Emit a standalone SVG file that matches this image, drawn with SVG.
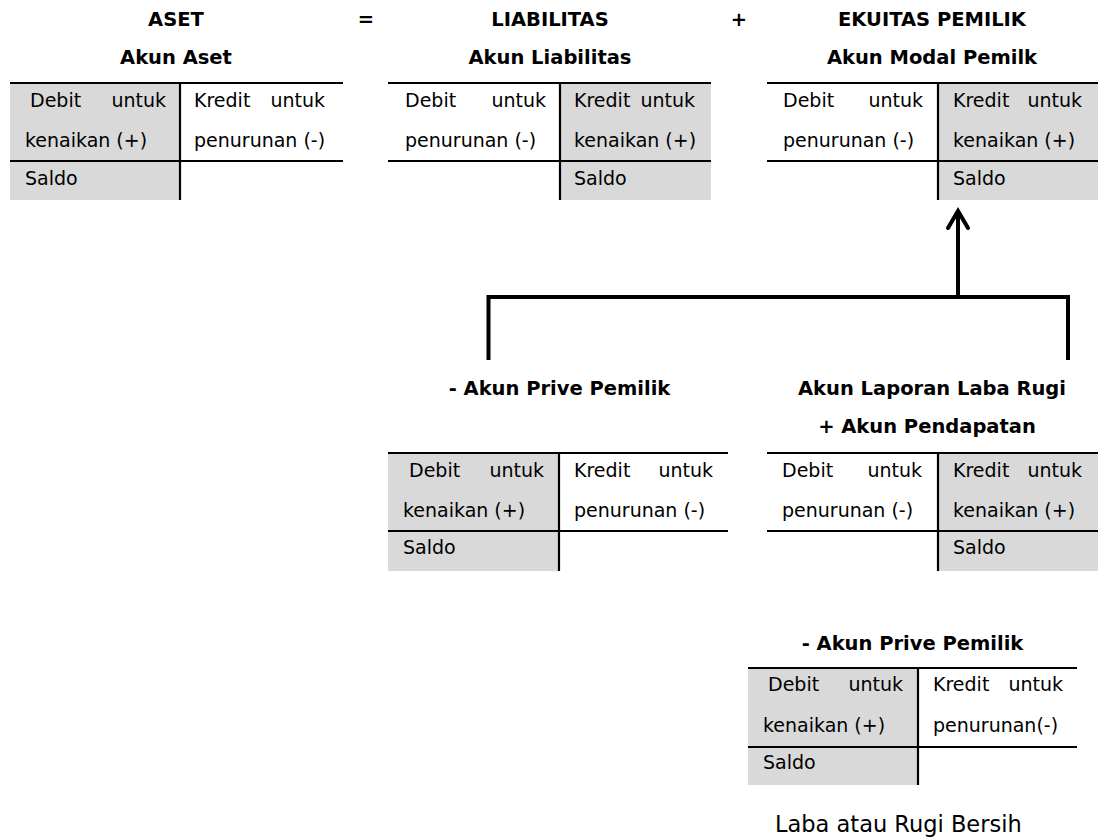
<svg xmlns="http://www.w3.org/2000/svg" width="1098" height="838" viewBox="0 0 1098 838">
<defs>
<style>
.t{font-family:"DejaVu Sans","Liberation Sans",sans-serif;font-size:19px;fill:#000}
.h{font-family:"DejaVu Sans","Liberation Sans",sans-serif;font-size:19.5px;font-weight:bold;fill:#000;text-anchor:middle}
.e{text-anchor:end}
.g{fill:#d9d9d9}
.ln{stroke:#000;stroke-width:2.2;fill:none}
.cn{stroke:#000;stroke-width:4;fill:none}
</style>
<marker id="arr" markerUnits="userSpaceOnUse" orient="auto" refX="0" refY="0" markerWidth="30" markerHeight="30" overflow="visible">
<path d="M-17,-10 L0,0 L-17,10" fill="none" stroke="#000" stroke-width="4" stroke-linecap="round" stroke-linejoin="miter"/>
</marker>
</defs>
<rect width="1098" height="838" fill="#fff"/>

<g id="headers">
<text class="h" x="176" y="26">ASET</text>
<text class="h" x="366" y="26">=</text>
<text class="h" x="550" y="26">LIABILITAS</text>
<text class="h" x="739" y="26">+</text>
<text class="h" x="932" y="26">EKUITAS PEMILIK</text>
</g>

<g id="akun-aset">
<text class="h" x="176" y="64">Akun Aset</text>
<rect class="g" x="10" y="83" width="170" height="117"/>
<path class="ln" d="M10,83 H343 M10,161 H343 M180,83 V200"/>
<text class="t" x="30" y="106.5">Debit</text><text class="t e" x="166" y="106.5">untuk</text>
<text class="t" x="25" y="147">kenaikan (+)</text>
<text class="t" x="194" y="106.5">Kredit</text><text class="t e" x="325" y="106.5">untuk</text>
<text class="t" x="194" y="147">penurunan (-)</text>
<text class="t" x="25" y="184.5">Saldo</text>
</g>

<g id="akun-liabilitas">
<text class="h" x="550" y="64">Akun Liabilitas</text>
<rect class="g" x="560" y="83" width="151" height="117"/>
<path class="ln" d="M388,83 H711 M388,161 H711 M560,83 V200"/>
<text class="t" x="405" y="106.5">Debit</text><text class="t e" x="546" y="106.5">untuk</text>
<text class="t" x="405" y="147">penurunan (-)</text>
<text class="t" x="574" y="106.5">Kredit</text><text class="t e" x="695" y="106.5">untuk</text>
<text class="t" x="574" y="147">kenaikan (+)</text>
<text class="t" x="574" y="184.5">Saldo</text>
</g>

<g id="akun-modal">
<text class="h" x="932" y="64">Akun Modal Pemilk</text>
<rect class="g" x="938" y="83" width="160" height="117"/>
<path class="ln" d="M767,83 H1098 M767,161 H1098 M938,83 V200"/>
<text class="t" x="783" y="106.5">Debit</text><text class="t e" x="923" y="106.5">untuk</text>
<text class="t" x="783" y="147">penurunan (-)</text>
<text class="t" x="953" y="106.5">Kredit</text><text class="t e" x="1082" y="106.5">untuk</text>
<text class="t" x="953" y="147">kenaikan (+)</text>
<text class="t" x="953" y="184.5">Saldo</text>
</g>

<g id="connectors">
<path class="cn" d="M488.5,360 V297 H1068 V360"/>
<line class="cn" x1="958" y1="297" x2="958" y2="211" marker-end="url(#arr)"/>
</g>

<g id="akun-prive-1">
<text class="h" x="559.5" y="395">- Akun Prive Pemilik</text>
<rect class="g" x="388" y="453" width="171" height="118"/>
<path class="ln" d="M388,453 H728 M388,531 H728 M559,453 V571"/>
<text class="t" x="409" y="476.5">Debit</text><text class="t e" x="544" y="476.5">untuk</text>
<text class="t" x="403" y="517">kenaikan (+)</text>
<text class="t" x="574" y="476.5">Kredit</text><text class="t e" x="713" y="476.5">untuk</text>
<text class="t" x="574" y="517">penurunan (-)</text>
<text class="t" x="403" y="553.5">Saldo</text>
</g>

<g id="akun-laba-rugi">
<text class="h" x="932" y="395">Akun Laporan Laba Rugi</text>
<text class="h" x="927" y="433">+ Akun Pendapatan</text>
<rect class="g" x="938" y="453" width="160" height="118"/>
<path class="ln" d="M767,453 H1098 M767,531 H1098 M938,453 V571"/>
<text class="t" x="782" y="476.5">Debit</text><text class="t e" x="922" y="476.5">untuk</text>
<text class="t" x="782" y="517">penurunan (-)</text>
<text class="t" x="953" y="476.5">Kredit</text><text class="t e" x="1082" y="476.5">untuk</text>
<text class="t" x="953" y="517">kenaikan (+)</text>
<text class="t" x="953" y="553.5">Saldo</text>
</g>

<g id="akun-prive-2">
<text class="h" x="912.5" y="650">- Akun Prive Pemilik</text>
<rect class="g" x="748" y="668" width="170" height="117"/>
<path class="ln" d="M748,668 H1077 M748,747 H1077 M918,668 V785"/>
<text class="t" x="768" y="691">Debit</text><text class="t e" x="903" y="691">untuk</text>
<text class="t" x="763" y="731.5">kenaikan (+)</text>
<text class="t" x="933" y="691">Kredit</text><text class="t e" x="1063" y="691">untuk</text>
<text class="t" x="933" y="731.5">penurunan(-)</text>
<text class="t" x="763" y="768.5">Saldo</text>
<text x="775" y="831.5" font-family="DejaVu Sans, Liberation Sans, sans-serif" font-size="22.5" fill="#000">Laba atau Rugi Bersih</text>
</g>
</svg>
